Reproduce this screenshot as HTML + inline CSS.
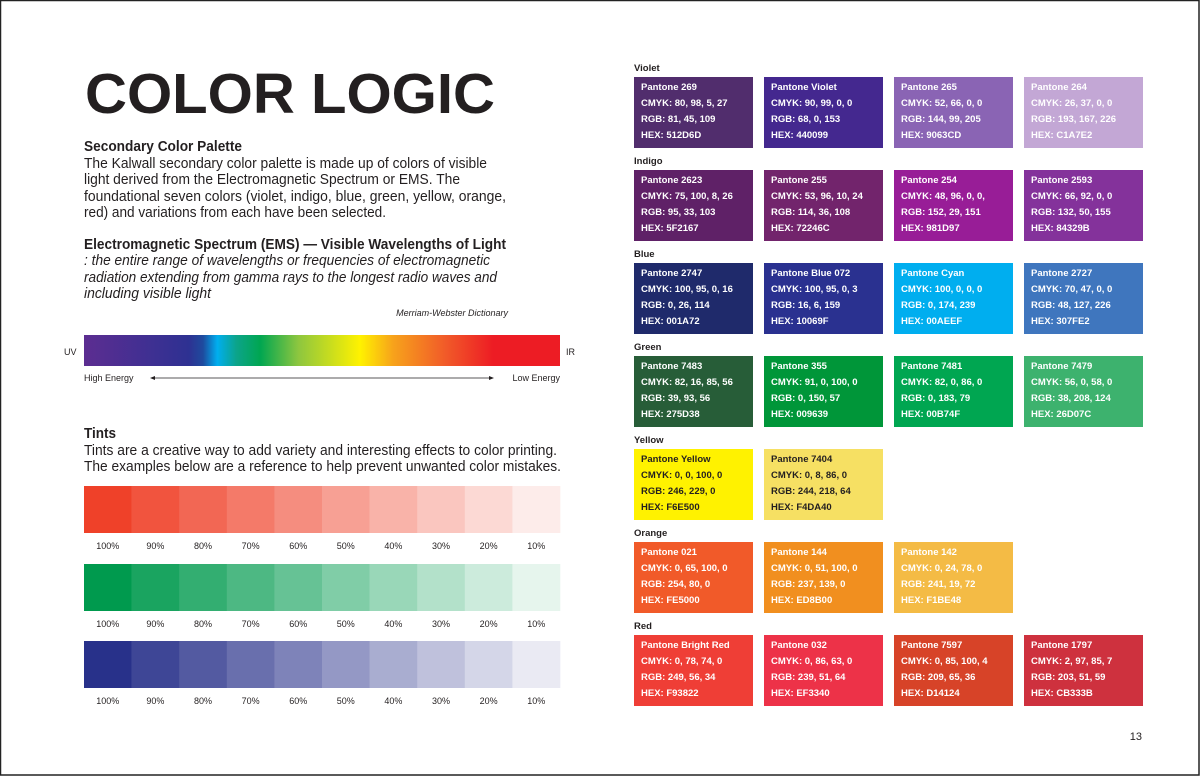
<!DOCTYPE html>
<html><head><meta charset="utf-8"><style>
html,body{margin:0;padding:0;background:#fff}
svg{display:block;font-family:"Liberation Sans",Arial,sans-serif}
</style></head><body>
<svg id="page" width="1200" height="776" viewBox="0 0 1200 776" xmlns="http://www.w3.org/2000/svg">
<defs>
<linearGradient id="spec" x1="0" x2="1" y1="0" y2="0">
<stop offset="0" stop-color="#5C2D91"/><stop offset="0.22" stop-color="#2E3192"/><stop offset="0.25" stop-color="#1E4B9E"/>
<stop offset="0.28" stop-color="#00AEEF"/><stop offset="0.32" stop-color="#0CA48A"/><stop offset="0.37" stop-color="#00A651"/>
<stop offset="0.45" stop-color="#8DC63F"/><stop offset="0.58" stop-color="#FFF200"/><stop offset="0.65" stop-color="#F7A21B"/>
<stop offset="0.76" stop-color="#F15A29"/><stop offset="0.86" stop-color="#ED1C24"/><stop offset="1" stop-color="#ED1C24"/>
</linearGradient>
</defs>
<rect x="0.5" y="0.5" width="1198.5" height="774.5" fill="#fff" stroke="#222" stroke-width="1.5"/>
<text x="85" y="113" font-size="57" font-weight="bold" fill="#231f20" textLength="410" lengthAdjust="spacingAndGlyphs">COLOR LOGIC</text>
<g fill="#231f20" font-size="14.5">
<text x="84" y="151" font-weight="bold" textLength="158" lengthAdjust="spacingAndGlyphs">Secondary Color Palette</text>
<text x="84" y="168" textLength="403" lengthAdjust="spacingAndGlyphs">The Kalwall secondary color palette is made up of colors of visible</text>
<text x="84" y="184" textLength="376" lengthAdjust="spacingAndGlyphs">light derived from the Electromagnetic Spectrum or EMS. The</text>
<text x="84" y="201" textLength="422" lengthAdjust="spacingAndGlyphs">foundational seven colors (violet, indigo, blue, green, yellow, orange,</text>
<text x="84" y="217" textLength="302" lengthAdjust="spacingAndGlyphs">red) and variations from each have been selected.</text>
<text x="84" y="249" font-weight="bold" textLength="422" lengthAdjust="spacingAndGlyphs">Electromagnetic Spectrum (EMS) — Visible Wavelengths of Light</text>
<text x="84" y="265" font-style="italic" textLength="406" lengthAdjust="spacingAndGlyphs">: the entire range of wavelengths or frequencies of electromagnetic</text>
<text x="84" y="282" font-style="italic" textLength="413" lengthAdjust="spacingAndGlyphs">radiation extending from gamma rays to the longest radio waves and</text>
<text x="84" y="298" font-style="italic" textLength="127" lengthAdjust="spacingAndGlyphs">including visible light</text>
<text x="508" y="316" font-size="9" font-style="italic" text-anchor="end">Merriam-Webster Dictionary</text>
<text x="84" y="438" font-weight="bold" textLength="32" lengthAdjust="spacingAndGlyphs">Tints</text>
<text x="84" y="455" textLength="473" lengthAdjust="spacingAndGlyphs">Tints are a creative way to add variety and interesting effects to color printing.</text>
<text x="84" y="471" textLength="477" lengthAdjust="spacingAndGlyphs">The examples below are a reference to help prevent unwanted color mistakes.</text>
</g>
<rect x="84" y="335" width="476" height="31" fill="url(#spec)"/>
<g font-size="9" fill="#231f20">
<text x="64" y="355">UV</text>
<text x="566" y="355">IR</text>
<text x="84" y="381">High Energy</text>
<text x="560" y="381" text-anchor="end">Low Energy</text>
</g>
<g stroke="#231f20" fill="#231f20">
<line x1="153" y1="378" x2="490" y2="378" stroke-width="0.8"/>
<path d="M150 378 L155 376 L155 380 Z" stroke="none"/><path d="M494 378 L489 376 L489 380 Z" stroke="none"/>
</g>
<g id="tints"></g>
<g id="swatches"></g>
<text x="1142" y="740" font-size="11" fill="#231f20" text-anchor="end">13</text>
</svg>
<script>
const tintPercents=[100,90,80,70,60,50,40,30,20,10];
const tintBases=["#EF4129","#009A4E","#28318A"];
const tintRowNames=["red","green","blue"];
const groupNames=["Violet","Indigo","Blue","Green","Yellow","Orange","Red"];
const swatchNames=[["Pantone 269","Pantone Violet","Pantone 265","Pantone 264"],["Pantone 2623","Pantone 255","Pantone 254","Pantone 2593"],["Pantone 2747","Pantone Blue 072","Pantone Cyan","Pantone 2727"],["Pantone 7483","Pantone 355","Pantone 7481","Pantone 7479"],["Pantone Yellow","Pantone 7404"],["Pantone 021","Pantone 144","Pantone 142"],["Pantone Bright Red","Pantone 032","Pantone 7597","Pantone 1797"]];
const swatchCMYK=[["80, 98, 5, 27","90, 99, 0, 0","52, 66, 0, 0","26, 37, 0, 0"],["75, 100, 8, 26","53, 96, 10, 24","48, 96, 0, 0,","66, 92, 0, 0"],["100, 95, 0, 16","100, 95, 0, 3","100, 0, 0, 0","70, 47, 0, 0"],["82, 16, 85, 56","91, 0, 100, 0","82, 0, 86, 0","56, 0, 58, 0"],["0, 0, 100, 0","0, 8, 86, 0"],["0, 65, 100, 0","0, 51, 100, 0","0, 24, 78, 0"],["0, 78, 74, 0","0, 86, 63, 0","0, 85, 100, 4","2, 97, 85, 7"]];
const swatchRGB=[["81, 45, 109","68, 0, 153","144, 99, 205","193, 167, 226"],["95, 33, 103","114, 36, 108","152, 29, 151","132, 50, 155"],["0, 26, 114","16, 6, 159","0, 174, 239","48, 127, 226"],["39, 93, 56","0, 150, 57","0, 183, 79","38, 208, 124"],["246, 229, 0","244, 218, 64"],["254, 80, 0","237, 139, 0","241, 19, 72"],["249, 56, 34","239, 51, 64","209, 65, 36","203, 51, 59"]];
const swatchHex=[["512D6D","440099","9063CD","C1A7E2"],["5F2167","72246C","981D97","84329B"],["001A72","10069F","00AEEF","307FE2"],["275D38","009639","00B74F","26D07C"],["F6E500","F4DA40"],["FE5000","ED8B00","F1BE48"],["F93822","EF3340","D14124","CB333B"]];
const swatchFill=[["#512D6D","#44288F","#8A64B4","#C3A7D5"],["#5F2167","#72246C","#981D97","#84329B"],["#1F2A6B","#2A3190","#00AEEF","#3F76BE"],["#275D38","#009639","#00A651","#3DB26E"],["#FFF200","#F6E063"],["#F15A29","#F18F1F","#F4BB45"],["#EF3E36","#ED3248","#D74328","#CE313E"]];
const darkText=[[0,0,0,0],[0,0,0,0],[0,0,0,0],[0,0,0,0],[1,1],[0,0,0],[0,0,0,0]];
const NS="http://www.w3.org/2000/svg";
function mk(tag,attrs,parent){const e=document.createElementNS(NS,tag);for(const k in attrs)e.setAttribute(k,attrs[k]);parent.appendChild(e);return e;}
function hexRgb(h){return [1,3,5].map(i=>parseInt(h.substr(i,2),16));}
function tint(h,p){const c=hexRgb(h);return "rgb("+c.map(v=>Math.round(255-(255-v)*p/100)).join(",")+")";}
// tints
const tg=document.getElementById("tints");
const tx0=84,tw=476,ty=[486,564,641],th=47;
const cw=tw/tintPercents.length;
tintBases.forEach((b,r)=>{
 tintPercents.forEach((p,i)=>{
  const rc=mk("rect",{x:tx0+i*cw,y:ty[r],width:cw+0.3,height:th,fill:tint(b,p)},tg);
  
  
  const t=mk("text",{x:tx0+i*cw+cw/2,y:ty[r]+th+16,"font-size":"9","text-anchor":"middle",fill:"#231f20"},tg);
  t.textContent=p+"%";
  
  
 });
});
// swatches
const sg=document.getElementById("swatches");
const sx0=634,sdx=130,sw=119,sh=71,sy0=77,sdy=93;
groupNames.forEach((g,r)=>{
 const top=sy0+r*sdy;
 const lab=mk("text",{x:634,y:top-6,"font-size":"9.5","font-weight":"bold",fill:"#231f20"},sg);
 lab.textContent=g;
 
 
 swatchNames[r].forEach((n,i)=>{
  const x=sx0+i*sdx;
  const gg=mk("g",{},sg);
  
  
  mk("rect",{x:x,y:top,width:sw,height:sh,fill:swatchFill[r][i]},gg);
  const col=darkText[r][i]?"#231f20":"#fff";
  const lines=[n,"CMYK: "+swatchCMYK[r][i],"RGB: "+swatchRGB[r][i],"HEX: "+swatchHex[r][i]];
  lines.forEach((l,k)=>{const t=mk("text",{x:x+7,y:top+13+k*16,"font-size":"9.5","font-weight":"bold",fill:col},gg);t.textContent=l;});
 });
});
</script>
</body></html>
